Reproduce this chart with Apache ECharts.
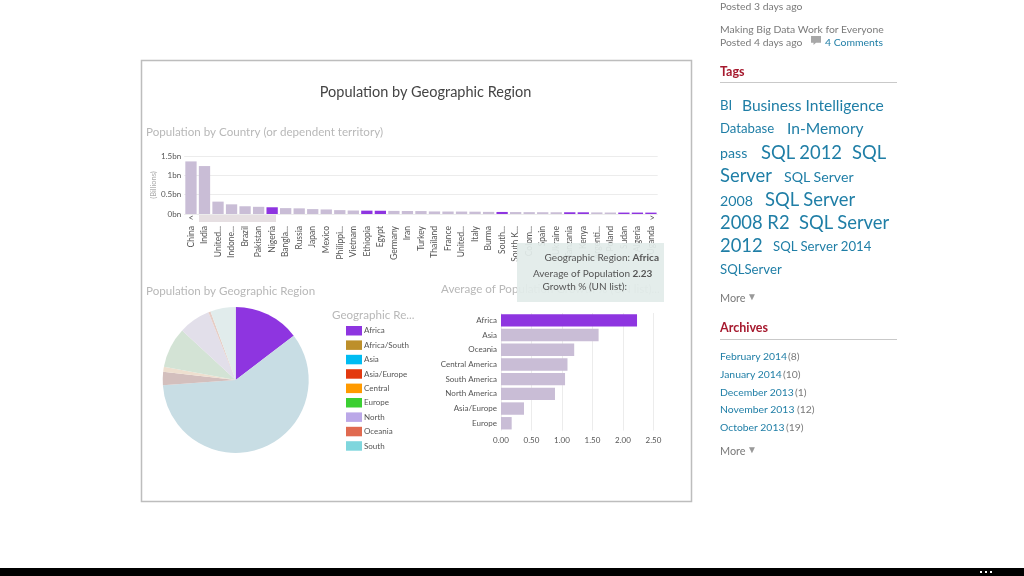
<!DOCTYPE html>
<html><head><meta charset="utf-8">
<script src="https://cdn.jsdelivr.net/npm/echarts@6/dist/echarts.min.js"></script>
<style>
html,body{margin:0;padding:0;background:#fff;width:1024px;height:576px;overflow:hidden;font-family:Lato,sans-serif}
#chart{position:absolute;left:0;top:0;width:1024px;height:576px}
#side span{position:absolute;white-space:nowrap;transform:translateY(-50%)}
#side .rule{position:absolute;left:720px;width:177px;height:1px;background:#c9c9c9}
#blackbar{position:absolute;left:0;top:568px;width:1024px;height:8px;background:#000}
#blackbar b{position:absolute;top:3px;width:2px;height:2px;background:#fff}
</style></head><body>
<div id="chart"></div>
<div id="side"></div>
<div id="blackbar"><b style="left:980px"></b><b style="left:985px"></b><b style="left:990px"></b></div>
<script>
const countries=["China","India","United...","Indone...","Brazil","Pakistan","Nigeria","Bangla...","Russia","Japan","Mexico","Philippi...","Vietnam","Ethiopia","Egypt","Germany","Iran","Turkey","Thailand","France","United...","Italy","Burma","South...","South K...","Colom...","Spain","Ukraine","Tanzania","Kenya","Argenti...","Poland","Sudan","Algeria","Uganda"];
const countryPopulation=[1.36,1.24,0.32,0.25,0.2,0.186,0.174,0.152,0.146,0.127,0.118,0.1,0.09,0.087,0.084,0.08,0.077,0.076,0.066,0.064,0.063,0.06,0.055,0.053,0.05,0.048,0.046,0.045,0.045,0.044,0.041,0.038,0.037,0.037,0.036];
const africanCountries=["Nigeria","Ethiopia","Egypt","South...","Tanzania","Kenya","Sudan","Algeria","Uganda"];
const regions=["Africa","Africa/South","Asia","Asia/Europe","Central","Europe","North","Oceania","South"];
const regionShare=[14.6,0.02,59.2,2.9,1.1,9,7,0.5,5.6];
const legendColors=["#8e35e0","#bd8f2a","#00bcf2","#e3390f","#ff9a00","#3bcf32","#bba8e8","#e06a50","#7fd6dd"];
const sliceColors=["#8e35e0","#e9ddc2","#c8dde4","#d3bfbd","#eedfcf","#d3e3d5","#e2dfea","#e6cdc5","#e1ecec"];
const growthRegions=["Africa","Asia","Oceania","Central America","South America","North America","Asia/Europe","Europe"];
const growthValues=[2.23,1.6,1.2,1.09,1.05,0.885,0.377,0.175];
const highlight="#8e35e0", faded="#c9bdd6";
const labelFont='Lato,sans-serif';
const sub={fontFamily:labelFont,fontSize:11.6,fontWeight:'normal',color:'#b8b8b8'};

const chart=echarts.init(document.getElementById('chart'));
chart.setOption({
  animation:false,
  backgroundColor:'#fff',
  title:[
    {text:'Population by Geographic Region',left:425.5,top:85,padding:0,textAlign:'center',textStyle:{fontFamily:labelFont,fontSize:14.5,fontWeight:'normal',color:'#444'}},
    {text:'Population by Country (or dependent territory)',left:146,top:126,padding:0,textStyle:sub},
    {text:'Population by Geographic Region',left:146,top:285,padding:0,textStyle:sub},
    {text:'Geographic Re...',left:332,top:309,padding:0,textStyle:sub},
    {text:'Average of Population Growth % (UN list)...',left:441,top:283,padding:0,textStyle:sub}
  ],
  grid:[
    {left:184.2,top:156,width:473.5,height:58},
    {left:501,top:313,width:152.5,height:117.6}
  ],
  xAxis:[
    {gridIndex:0,type:'category',data:countries,axisLine:{show:false},axisTick:{show:false},
      axisLabel:{interval:0,rotate:90,margin:12,fontSize:8.5,fontFamily:labelFont,color:'#555',hideOverlap:false}},
    {gridIndex:1,type:'value',min:0,max:2.5,interval:0.5,axisLine:{show:false},axisTick:{show:false},
      splitLine:{lineStyle:{color:'#ececec'}},
      axisLabel:{margin:6,fontSize:8,fontFamily:labelFont,color:'#555',formatter:v=>v.toFixed(2)}}
  ],
  yAxis:[
    {gridIndex:0,type:'value',min:0,max:1.5,interval:0.5,axisLine:{show:false},axisTick:{show:false},
      splitLine:{lineStyle:{color:'#ececec'}},
      name:'(Billions)',nameLocation:'middle',nameGap:27,nameRotate:90,nameTextStyle:{fontSize:7.5,fontFamily:labelFont,color:'#aaa'},
      axisLabel:{margin:3,fontSize:8,fontFamily:labelFont,color:'#555',formatter:v=>v+'bn'}},
    {gridIndex:1,type:'category',inverse:true,data:growthRegions,axisLine:{show:false},axisTick:{show:false},
      axisLabel:{interval:0,margin:4,fontSize:8,fontFamily:labelFont,color:'#555'}}
  ],
  legend:{
    orient:'vertical',left:341,top:321,itemWidth:16,itemHeight:9.5,itemGap:4.9,selectedMode:false,
    textStyle:{fontSize:8,fontFamily:labelFont,color:'#555',padding:[0,0,0,-3]},
    data:regions.map((n,i)=>({name:n,icon:'rect',itemStyle:{color:legendColors[i]}}))
  },
  series:[
    {type:'bar',xAxisIndex:0,yAxisIndex:0,barWidth:11.3,silent:true,
      data:countryPopulation.map((v,i)=>({value:v,itemStyle:{color:africanCountries.includes(countries[i])?highlight:faded}}))},
    {type:'bar',xAxisIndex:1,yAxisIndex:1,barWidth:12.4,silent:true,
      data:growthValues.map((v,i)=>({value:v,itemStyle:{color:i===0?highlight:faded}}))},
    {type:'pie',center:[235.7,380],radius:[0,73],startAngle:90,clockwise:true,silent:true,
      label:{show:false},labelLine:{show:false},
      data:regions.map((n,i)=>({name:n,value:regionShare[i],itemStyle:{color:sliceColors[i]}}))}
  ],
  graphic:[
    {type:'rect',z:1,shape:{x:141.5,y:60.5,width:550,height:441},style:{fill:'none',stroke:'#bdbdbd',lineWidth:1.5}},
    {type:'rect',z:1,shape:{x:199,y:215,width:77,height:7},style:{fill:'#e6dfe2'}},
    {type:'text',z:5,x:191,y:218,style:{text:'<',align:'center',verticalAlign:'middle',fontSize:9,fill:'#555',fontFamily:labelFont}},
    {type:'text',z:5,x:652,y:218,style:{text:'>',align:'center',verticalAlign:'middle',fontSize:9,fill:'#555',fontFamily:labelFont}},
    {type:'rect',z:50,shape:{x:517,y:243,width:147,height:59},style:{fill:'rgba(226,236,233,0.93)'}},
    {type:'text',z:51,x:630,y:258,style:{text:'Geographic Region:',align:'right',verticalAlign:'middle',fontSize:10,fill:'#555',fontFamily:labelFont}},
    {type:'text',z:51,x:632.5,y:258,style:{text:'Africa',align:'left',verticalAlign:'middle',fontSize:10,fontWeight:'bold',fill:'#555',fontFamily:labelFont}},
    {type:'text',z:51,x:630,y:274,style:{text:'Average of Population',align:'right',verticalAlign:'middle',fontSize:10,fill:'#555',fontFamily:labelFont}},
    {type:'text',z:51,x:632.5,y:274,style:{text:'2.23',align:'left',verticalAlign:'middle',fontSize:10,fontWeight:'bold',fill:'#555',fontFamily:labelFont}},
    {type:'text',z:51,x:627,y:287,style:{text:'Growth % (UN list):',align:'right',verticalAlign:'middle',fontSize:10,fill:'#555',fontFamily:labelFont}}
  ]
});

const blue='#1f7ea6', grey='#7a7a7a', red='#a6192e', arrow='#999';
const sideTexts=[
  ['Posted 3 days ago',720,5.5,10.4,grey],
  ['Making Big Data Work for Everyone',720,28.5,10.4,grey],
  ['Posted 4 days ago',720,41.5,10.4,grey],
  ['4 Comments',825,41.5,10.4,blue],
  ['Tags',720,71,12.5,red,700],
  ['BI',720,104.5,13.2,blue],['Business Intelligence',742,104.5,15.6,blue],
  ['Database',720,128,13.2,blue],['In-Memory',787,127.5,15.6,blue],
  ['pass',720,152,14.2,blue],['SQL 2012',761,151.5,18.4,blue],['SQL',852,151.5,18.4,blue],
  ['Server',720,175,18.4,blue],['SQL Server',784,176,14.2,blue],
  ['2008',720,199.5,14.2,blue],['SQL Server',765,199,18.4,blue],
  ['2008 R2',720,222,18.4,blue],['SQL Server',799,222,18.4,blue],
  ['2012',720,245,18.4,blue],['SQL Server 2014',773,246,13.2,blue],
  ['SQLServer',720,268.5,13.2,blue],
  ['More',720,297,10.9,grey],['▼',747,296,10,arrow],
  ['Archives',720,327,12.5,red,700],
  ['February 2014',720,356,10.4,blue],['(8)',788,356,10.4,grey],
  ['January 2014',720,373.5,10.4,blue],['(10)',783,373.5,10.4,grey],
  ['December 2013',720,391.5,10.4,blue],['(1)',795,391.5,10.4,grey],
  ['November 2013',720,409,10.4,blue],['(12)',797,409,10.4,grey],
  ['October 2013',720,426.5,10.4,blue],['(19)',786,426.5,10.4,grey],
  ['More',720,450,10.9,grey],['▼',747,449,10,arrow]
];
const side=document.getElementById('side');
sideTexts.forEach(([t,x,y,s,c,w])=>{
  const e=document.createElement('span');e.textContent=t;
  e.style.cssText=`left:${x}px;top:${y}px;font-size:${s}px;color:${c};font-weight:${w||400}`;
  side.appendChild(e);
});
[82,339].forEach(y=>{const r=document.createElement('div');r.className='rule';r.style.top=y+'px';side.appendChild(r);});
const ic=document.createElement('div');
ic.style.cssText='position:absolute;left:811px;top:36px;width:10px;height:9px;background:#a8a8a8;clip-path:polygon(0 0,100% 0,100% 75%,50% 75%,25% 100%,25% 75%,0 75%)';
side.appendChild(ic);
</script>
</body></html>
